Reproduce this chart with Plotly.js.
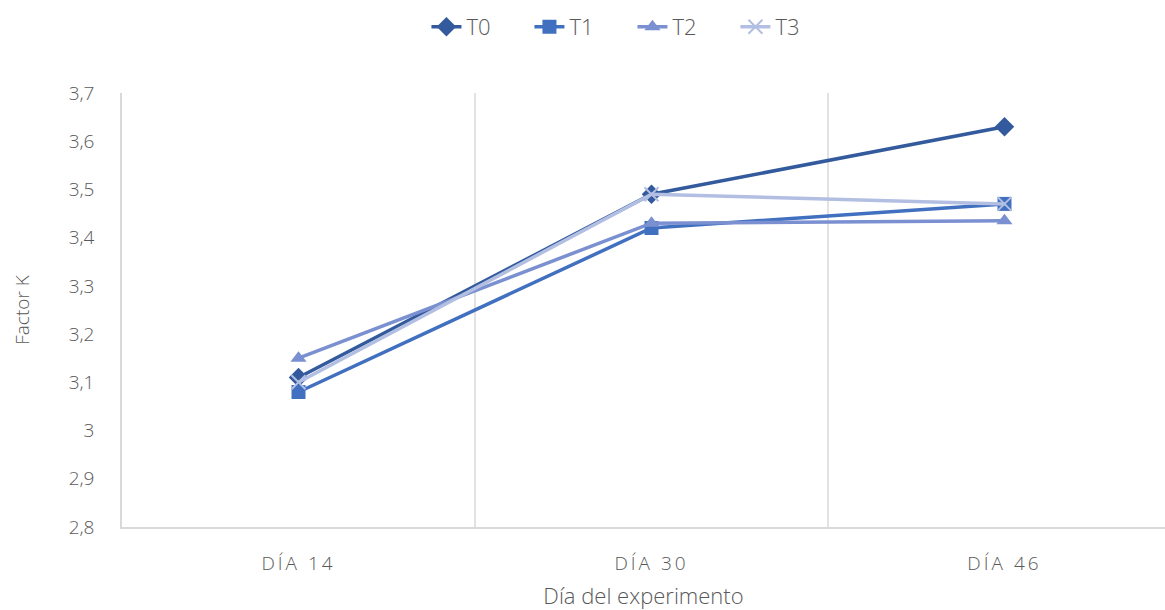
<!DOCTYPE html>
<html>
<head>
<meta charset="utf-8">
<script src="https://cdn.plot.ly/plotly-3.0.1.min.js"></script>
<style>
html,body{margin:0;padding:0;overflow:hidden;background:#fff}
.xtick text{letter-spacing:3px}
</style>
</head>
<body>
<div id="chart" style="width:1165px;height:610px"></div>
<script>
const categories = ["DÍA 14", "DÍA 30", "DÍA 46"];
const seriesNames = ["T0", "T1", "T2", "T3"];
const T0 = [3.11, 3.49, 3.63];
const T1 = [3.08, 3.42, 3.47];
const T2 = [3.15, 3.43, 3.435];
const T3 = [3.10, 3.49, 3.47];
const tickValues = [2.8, 2.9, 3.0, 3.1, 3.2, 3.3, 3.4, 3.5, 3.6, 3.7];
const tickLabels = ["2,8", "2,9", "3", "3,1", "3,2", "3,3", "3,4", "3,5", "3,6", "3,7"];

const colors = ["#335A9C", "#4270C0", "#7A90D0", "#B2BFE2"];
const symbols = ["diamond", "square", "triangle-up", "x-thin"];
const seriesData = [T0, T1, T2, T3];

const traces = seriesData.map((vals, i) => ({
  type: "scatter",
  mode: "lines+markers",
  name: seriesNames[i],
  x: [0, 1, 2],
  y: vals,
  line: {color: colors[i], width: 3.5},
  marker: i === 3
    ? {symbol: symbols[i], size: 14, color: colors[i], line: {color: colors[i], width: 2}}
    : {symbol: symbols[i], size: i === 0 ? 15 : 14, color: colors[i]}
}));

const font = {family: "'Open Sans', 'Noto Sans', sans-serif", color: "#595959", weight: 300};

Plotly.newPlot("chart", traces, {
  width: 1165, height: 610,
  margin: {l: 122, r: 0, t: 93, b: 83},
  paper_bgcolor: "#fff", plot_bgcolor: "#fff",
  font: font,
  separators: ",.",
  showlegend: true,
  legend: {orientation: "h", x: 0.4894, xanchor: "center", y: 1.152, yanchor: "middle",
           font: {size: 22, color: "#595959", weight: 300}, entrywidth: 58, tracegroupgap: 0},
  xaxis: {
    range: [-0.5, 2.4547],
    tickmode: "array", tickvals: [0, 1, 2], ticktext: categories,
    showgrid: false, showline: true, linecolor: "#D9D9D9", linewidth: 1.5,
    ticks: "", zeroline: false, ticklabelstandoff: 18,
    tickfont: {size: 19, color: "#595959", weight: 300},
    title: {text: "Día del experimento", font: {size: 22, color: "#595959", weight: 300}, standoff: 14}
  },
  yaxis: {
    range: [2.8, 3.7],
    tickmode: "array", tickvals: tickValues, ticktext: tickLabels,
    showgrid: false, showline: true, linecolor: "#D9D9D9", linewidth: 1.5,
    ticks: "", zeroline: false, ticklabelstandoff: 22,
    tickfont: {size: 19, color: "#595959", weight: 300},
    title: {text: "Factor K", font: {size: 19, color: "#595959", weight: 300}, standoff: 34}
  },
  shapes: [0.5, 1.5].map(v => ({type: "line", xref: "x", yref: "paper", x0: v, x1: v, y0: 0, y1: 1,
    line: {color: "#D9D9D9", width: 1.5}, layer: "below"}))
}, {displayModeBar: false});
</script>
</body>
</html>
